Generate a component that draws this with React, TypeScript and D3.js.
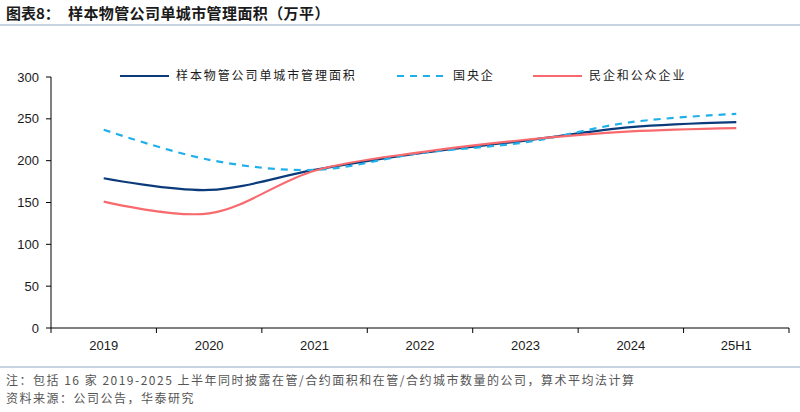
import * as d3 from 'd3';

const CATEGORIES = ['2019', '2020', '2021', '2022', '2023', '2024', '25H1'];
const SAMPLE = [179, 165, 189, 209, 224, 240, 246];
const CENTRAL = [237, 201, 189, 209, 222, 246, 256];
const PRIVATE = [151, 137, 188, 210, 225, 235, 239];
const Y_TICKS = [0, 50, 100, 150, 200, 250, 300];

const SERIES = [
  { name: '样本物管公司单城市管理面积', values: SAMPLE, color: '#0b3b7a', dash: '' },
  { name: '国央企', values: CENTRAL, color: '#1fb0ec', dash: '7,6' },
  { name: '民企和公众企业', values: PRIVATE, color: '#f86a6d', dash: '' },
];

const W = 800;
const H = 412;
const LEFT = 51;
const RIGHT = 789;
const TOP = 77;
const BOTTOM = 328;
const CJK = '"Noto Sans CJK SC", sans-serif';
const NUM = '"Liberation Sans", Arial, sans-serif';

export default function App() {
  const x = d3.scaleBand<string>().domain(CATEGORIES).range([LEFT, RIGHT]);
  const y = d3.scaleLinear().domain([0, 300]).range([BOTTOM, TOP]);
  const line = d3
    .line<number>()
    .x((_, i) => (x(CATEGORIES[i]) ?? 0) + x.bandwidth() / 2)
    .y((v) => y(v))
    .curve(d3.curveCatmullRom.alpha(0.5));

  const legendX = [120, 397, 533];

  return (
    <svg
      width={W}
      height={H}
      style={{ position: 'absolute', left: 0, top: 0, background: '#fff' }}
    >
      <text x={6} y={19} fontFamily={CJK} fontSize={15} fontWeight={700} fill="#1a1a1a">
        图表8：
      </text>
      <text
        x={68}
        y={19}
        fontFamily={CJK}
        fontSize={15}
        fontWeight={700}
        letterSpacing={0.4}
        fill="#1a1a1a"
      >
        样本物管公司单城市管理面积（万平）
      </text>
      <line x1={0} x2={W} y1={25} y2={25} stroke="#8fa9c9" strokeWidth={1.2} />

      {/* y axis */}
      <line x1={LEFT} x2={LEFT} y1={TOP} y2={BOTTOM} stroke="#000" />
      {Y_TICKS.map((t) => (
        <g key={t}>
          <line x1={LEFT - 5} x2={LEFT} y1={y(t)} y2={y(t)} stroke="#000" />
          <text
            x={LEFT - 12}
            y={y(t)}
            dy="0.35em"
            textAnchor="end"
            fontFamily={NUM}
            fontSize={13}
            fill="#1a1a1a"
          >
            {t}
          </text>
        </g>
      ))}

      {/* x axis */}
      <line x1={LEFT} x2={RIGHT} y1={BOTTOM} y2={BOTTOM} stroke="#000" />
      {[...CATEGORIES.map((c) => x(c) ?? 0), RIGHT].map((px, i) => (
        <line key={i} x1={px} x2={px} y1={BOTTOM} y2={BOTTOM + 5} stroke="#000" />
      ))}
      {CATEGORIES.map((c) => (
        <text
          key={c}
          x={(x(c) ?? 0) + x.bandwidth() / 2}
          y={350}
          textAnchor="middle"
          fontFamily={NUM}
          fontSize={13}
          fill="#1a1a1a"
        >
          {c}
        </text>
      ))}

      {SERIES.map((s) => (
        <path
          key={s.name}
          d={line(s.values) ?? ''}
          fill="none"
          stroke={s.color}
          strokeWidth={2.2}
          strokeDasharray={s.dash || undefined}
        />
      ))}

      {/* legend */}
      {SERIES.map((s, i) => (
        <g key={s.name}>
          <line
            x1={legendX[i]}
            x2={legendX[i] + 49}
            y1={76}
            y2={76}
            stroke={s.color}
            strokeWidth={2.2}
            strokeDasharray={s.dash || undefined}
          />
          <text
            x={legendX[i] + 56}
            y={76}
            dy="0.35em"
            fontFamily={CJK}
            fontSize={12}
            letterSpacing={1.9}
            fill="#1a1a1a"
          >
            {s.name}
          </text>
        </g>
      ))}

      <line x1={0} x2={W} y1={367} y2={367} stroke="#8fa9c9" strokeWidth={1.2} />
      <text x={6} y={385} fontFamily={CJK} fontSize={12} letterSpacing={1.5} fill="#555">
        注：包括 16 家 2019-2025 上半年同时披露在管/合约面积和在管/合约城市数量的公司，算术平均法计算
      </text>
      <text x={6} y={403} fontFamily={CJK} fontSize={12} letterSpacing={1.5} fill="#555">
        资料来源：公司公告，华泰研究
      </text>
    </svg>
  );
}
